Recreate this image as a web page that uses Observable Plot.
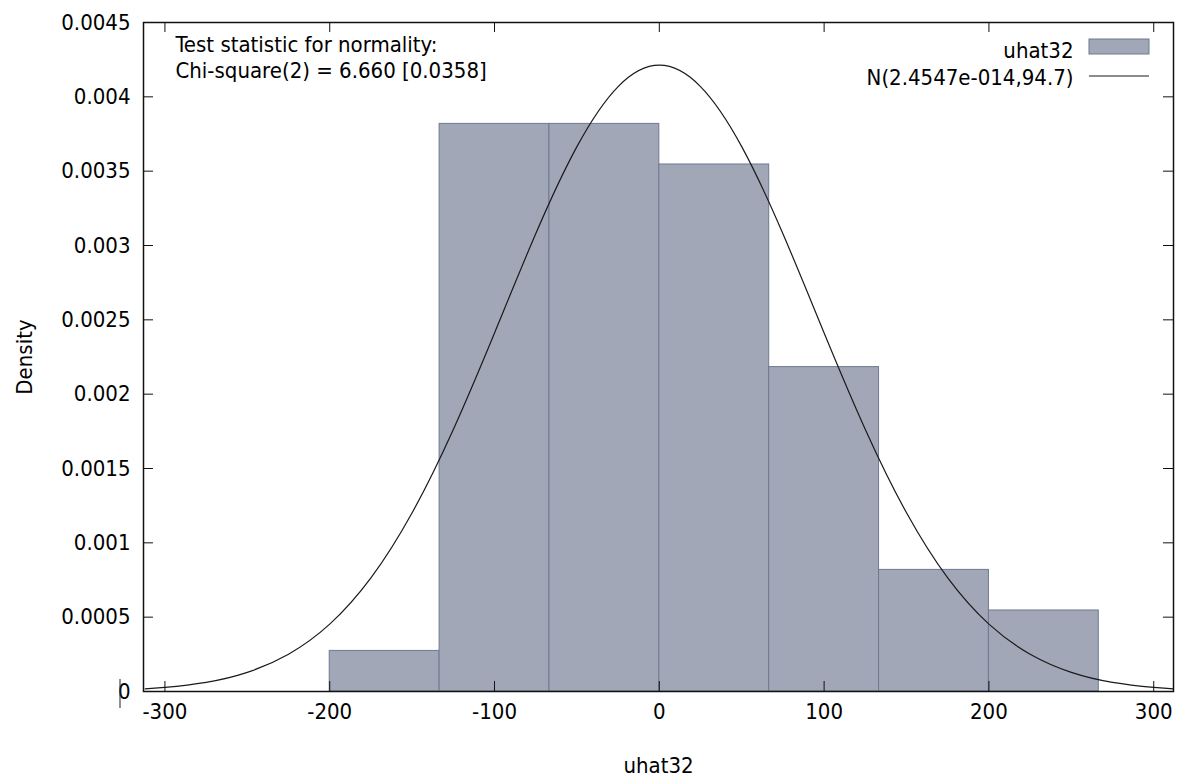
<!DOCTYPE html>
<html>
<head>
<meta charset="utf-8">
<script src="https://cdn.jsdelivr.net/npm/d3@7"></script>
<script src="https://cdn.jsdelivr.net/npm/@observablehq/plot@0.6"></script>
<style>
  html, body { margin: 0; padding: 0; background: #ffffff; }
  #chart svg { display: block; }
</style>
</head>
<body>
<div id="chart"></div>
<script>
// ---- Data ----
const binEdges = [-200, -133.33, -66.67, 0, 66.67, 133.33, 200, 266.67];
const binDensities = [0.000273, 0.003818, 0.003818, 0.003545, 0.002182, 0.000818, 0.000545];

// Fitted normal curve N(2.4547e-014, 94.7)
const curveX = [-312, -300, -275, -250, -225, -200, -175, -150, -125, -100, -75, -50, -25, 0,
                25, 50, 75, 100, 125, 150, 175, 200, 225, 250, 275, 300, 312];
const curveY = [0.000018, 0.000028, 0.000062, 0.000129, 0.000251, 0.000453, 0.000764, 0.001202, 0.001763, 0.002412, 0.003079, 0.003665, 0.004069, 0.004213,
                0.004069, 0.003665, 0.003079, 0.002412, 0.001763, 0.001202, 0.000764, 0.000453, 0.000251, 0.000129, 0.000062, 0.000028, 0.000018];

const xTicks = [-300, -200, -100, 0, 100, 200, 300];
const yTicks = [0, 0.0005, 0.001, 0.0015, 0.002, 0.0025, 0.003, 0.0035, 0.004, 0.0045];

const annotation = ["Test statistic for normality:\nChi-square(2) = 6.660 [0.0358]"];
const seriesLabels = ["uhat32", "N(2.4547e-014,94.7)"];
const xTitle = "uhat32";
const yTitle = "Density";

// ---- Build tables ----
const bins = binDensities.map((d, i) => ({x1: binEdges[i], x2: binEdges[i + 1], y: d}));
const curve = curveX.map((x, i) => ({x, y: curveY[i]}));

const FONT = "'DejaVu Sans Condensed', 'Liberation Sans', sans-serif";
const barFill = "#a1a7b6";
const barStroke = "#6f7990";

const W = 1179, H = 777;
const mL = 143, mR = 6, mT = 22, mB = 86;
const frameW = W - mL - mR, frameH = H - mT - mB;
const tickLen = 10;

const plot = Plot.plot({
  width: W,
  height: H,
  marginLeft: mL,
  marginRight: mR,
  marginTop: mT,
  marginBottom: mB,
  style: {fontFamily: FONT, fontSize: "22px", color: "#000", background: "#fff", overflow: "hidden"},
  x: {domain: [-313, 312]},
  y: {domain: [0, 0.0045]},
  marks: [
    Plot.rectY(bins, {x1: "x1", x2: "x2", y: "y", fill: barFill, stroke: barStroke, strokeWidth: 1}),
    Plot.line(curve, {x: "x", y: "y", stroke: "#1a1a1a", strokeWidth: 1.2, curve: "natural"}),
    // inward ticks on all four sides
    Plot.tickX(xTicks, {x: d => d, insetBottom: frameH - tickLen, stroke: "#111"}),
    Plot.tickX(xTicks, {x: d => d, insetTop: frameH - tickLen, stroke: "#111"}),
    Plot.tickY(yTicks, {y: d => d, insetRight: frameW - tickLen, stroke: "#111"}),
    Plot.tickY(yTicks, {y: d => d, insetLeft: frameW - tickLen, stroke: "#111"}),
    Plot.axisX({ticks: xTicks, tickSize: 0, tickPadding: 12, tickFormat: d => String(d), label: null, fontSize: 22}),
    Plot.axisY({ticks: yTicks, tickSize: 0, tickPadding: 13, tickFormat: d => String(d), label: null, fontSize: 22}),
    Plot.text([yTitle], {text: d => d, frameAnchor: "left", textAnchor: "middle", dx: -119, rotate: -90, fontSize: 22, fill: "#000"}),
    Plot.text([xTitle], {text: d => d, frameAnchor: "bottom", textAnchor: "middle", lineAnchor: "top", dy: 66, fontSize: 22, fill: "#000"}),
    Plot.text(annotation, {text: d => d, frameAnchor: "top-left", textAnchor: "start", lineAnchor: "top", dx: 32, dy: 11, lineHeight: 1.18, fontSize: 22, fill: "#000"}),
    Plot.text([seriesLabels.join("\n")], {text: d => d, frameAnchor: "top-right", textAnchor: "end", lineAnchor: "top", dx: -100, dy: 17, lineHeight: 1.2, fontSize: 22, fill: "#000"}),
    Plot.frame({stroke: "#111", strokeWidth: 1.5})
  ]
});

// legend keys (swatch and line sample)
const svg = d3.select(plot);
const keyX = W - mR - 84;
svg.append("rect")
  .attr("x", keyX).attr("y", mT + 17).attr("width", 60).attr("height", 15)
  .attr("fill", barFill).attr("stroke", barStroke).attr("stroke-width", 1);
svg.append("line")
  .attr("x1", keyX).attr("x2", keyX + 60).attr("y1", mT + 54).attr("y2", mT + 54)
  .attr("stroke", "#1a1a1a").attr("stroke-width", 1.2);
// small vertical caret artifact beside the zero label
svg.append("line")
  .attr("x1", 120).attr("x2", 120).attr("y1", H - mB - 12).attr("y2", H - mB + 17)
  .attr("stroke", "#222").attr("stroke-width", 1);

document.getElementById("chart").appendChild(plot);
</script>
</body>
</html>
